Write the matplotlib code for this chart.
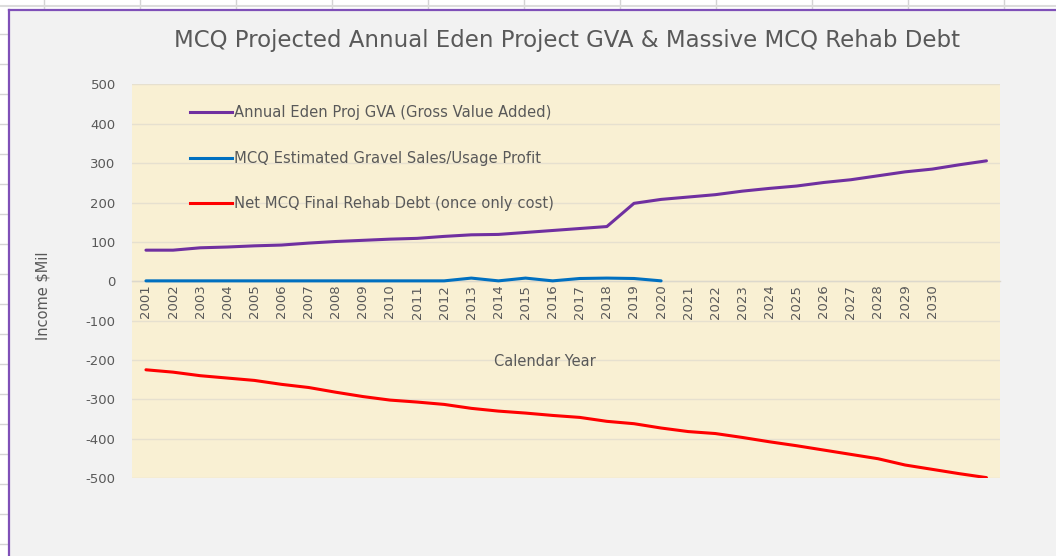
import matplotlib
matplotlib.use("Agg")
import matplotlib.pyplot as plt
from matplotlib.lines import Line2D
from matplotlib.patches import Rectangle
import numpy as np

plt.rcParams['font.family'] = ['DejaVu Sans']
plt.rcParams['axes.unicode_minus'] = False

# ---------------- data ----------------
years = ["2001", "2002", "2003", "2004", "2005", "2006", "2007", "2008", "2009", "2010",
         "2011", "2012", "2013", "2014", "2015", "2016", "2017", "2018", "2019", "2020",
         "2021", "2022", "2023", "2024", "2025", "2026", "2027", "2028", "2029", "2030",
         "", ""]
gva = [79, 79, 85, 87, 90, 92, 97, 101, 104, 107, 109, 114, 118, 119, 124, 129,
       134, 139, 198, 208, 214, 220, 229, 236, 242, 251, 258, 268, 278, 285, 296, 306]
gravel = [1, 1, 1, 1, 1, 1, 1, 1, 1, 1, 1, 1, 8, 1, 8, 1, 7, 8, 7, 1]
rehab = [-225, -231, -240, -246, -252, -262, -270, -282, -293, -302, -307, -313,
         -323, -330, -335, -341, -346, -356, -362, -373, -382, -387, -397, -408,
         -418, -429, -440, -451, -467, -478, -489, -499]
labels = ["Annual Eden Proj GVA (Gross Value Added)",
          "MCQ Estimated Gravel Sales/Usage Profit",
          "Net MCQ Final Rehab Debt (once only cost)"]
colors = ["#7030a0", "#0070c0", "#ff0000"]
yticks = [-500, -400, -300, -200, -100, 0, 100, 200, 300, 400, 500]

title = "MCQ Projected Annual Eden Project GVA & Massive MCQ Rehab Debt"
xlabel = "Calendar Year"
ylabel = "Income $Mil"

# ---------------- figure / spreadsheet frame ----------------
W, H = 1056, 556
fig = plt.figure(figsize=(W / 100, H / 100), dpi=100, facecolor="white")

def fx(px):
    return px / W

def fy(py):
    return 1 - py / H

# chart area background
fig.add_artist(Rectangle((fx(8.5), 0), 1.0, fy(9.5), transform=fig.transFigure,
                         facecolor="#f2f2f2", edgecolor="none", zorder=0))
# spreadsheet grid lines outside chart
for cx in [44, 140, 236, 332, 428, 524, 620, 716, 812, 908, 1004]:
    fig.add_artist(Line2D([fx(cx), fx(cx)], [fy(0), fy(8)], transform=fig.transFigure,
                          color="#d4d4d4", lw=1, zorder=1))
fig.add_artist(Line2D([0, 1], [fy(5.5), fy(5.5)], transform=fig.transFigure,
                      color="#dcdcdc", lw=1.5, zorder=1))
for ry in range(34, 556, 30):
    fig.add_artist(Line2D([fx(0), fx(7.5)], [fy(ry), fy(ry)], transform=fig.transFigure,
                          color="#d4d4d4", lw=1, zorder=1))
# purple selection border
fig.add_artist(Line2D([fx(8.5), 1], [fy(9.5), fy(9.5)], transform=fig.transFigure,
                      color="#7f50b8", lw=1.6, zorder=2))
fig.add_artist(Line2D([fx(8.5), fx(8.5)], [fy(9.5), 0], transform=fig.transFigure,
                      color="#7f50b8", lw=1.6, zorder=2))

# ---------------- axes ----------------
ax = fig.add_axes([fx(132.4), fy(478), (1000 - 132.4) / W, (478 - 84.5) / H])
ax.set_facecolor("#f9f0d3")
x = np.arange(len(years))
ax.plot(x, gva, color=colors[0], lw=2.2, solid_capstyle="round", zorder=3)
ax.plot(x[:len(gravel)], gravel, color=colors[1], lw=2.2, solid_capstyle="round", zorder=3)
ax.plot(x, rehab, color=colors[2], lw=2.2, solid_capstyle="round", zorder=3)

ax.set_xlim(-0.5, len(years) - 0.5)
ax.set_ylim(-500, 500)
ax.set_yticks(yticks)
ax.set_xticks(x)
ax.set_xticklabels(years)
ax.grid(axis="y", color="#e6e0cf", lw=1)
ax.set_axisbelow(True)
for s in ["top", "right", "left"]:
    ax.spines[s].set_visible(False)
ax.spines["bottom"].set_position(("data", 0))
ax.spines["bottom"].set_color("#dcd8cc")
ax.spines["bottom"].set_linewidth(1)

ax.tick_params(axis="x", length=0, pad=2.5, labelrotation=90, labelsize=9.5, colors="#595959")
ax.tick_params(axis="y", length=0, pad=12, labelsize=9.5, colors="#595959")

# x-axis title (drawn as text so it sits above the grid lines, as in the reference)
ax.text((545 - 132.4) / 867.6, (478 - 361) / 393.5, xlabel, transform=ax.transAxes,
        ha="center", va="center", fontsize=10.5, color="#595959", zorder=6)
ax.set_ylabel(ylabel, fontsize=10.5, color="#595959")
ax.yaxis.set_label_coords((50 - 132.4) / 867.6, (478 - 296) / 393.5)

fig.text(fx(567), fy(40), title, ha="center", va="center", fontsize=16.5, color="#595959")

handles = [Line2D([], [], color=c, lw=2.2) for c in colors]
ax.legend(handles, labels, loc="upper left", bbox_to_anchor=(fx(190), fy(105.5)),
          bbox_transform=fig.transFigure, frameon=False, fontsize=10.6,
          labelcolor="#595959", handlelength=2.85, handletextpad=0.15,
          labelspacing=2.05, borderpad=0, borderaxespad=0)

fig.savefig("out.png", dpi=100, facecolor=fig.get_facecolor())
